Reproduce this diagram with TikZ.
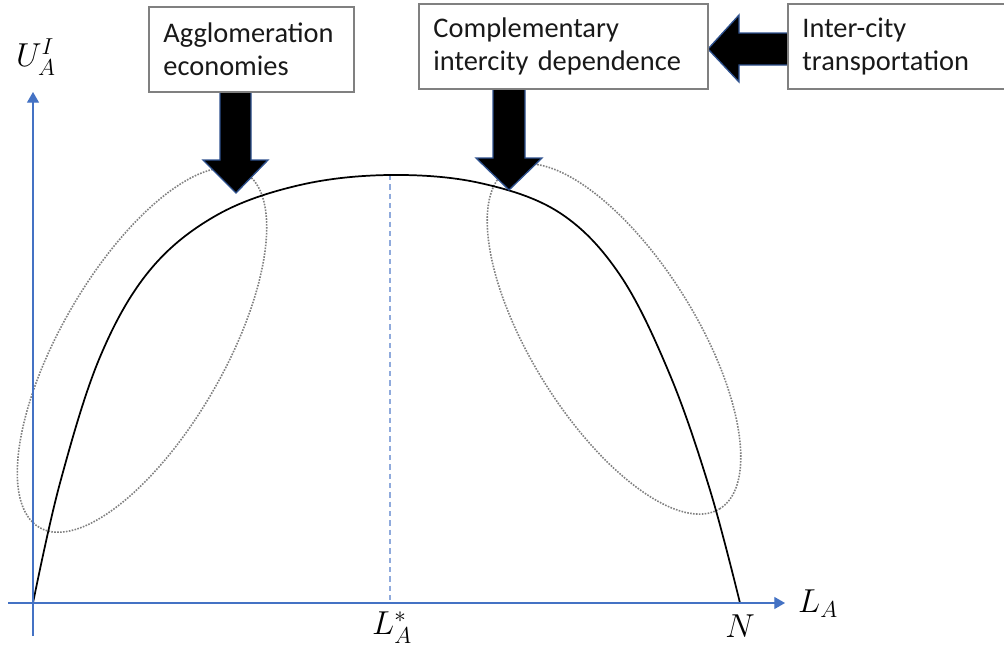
\documentclass[tikz,border=0pt]{standalone}
\usepackage{fontspec}
\setmainfont{Carlito}
\usepackage{amsmath}
\usetikzlibrary{arrows.meta}
\definecolor{axblue}{HTML}{4472C4}
\definecolor{dashblue}{HTML}{8FAADC}
\definecolor{rimblue}{HTML}{2F528F}

\begin{document}
\begin{tikzpicture}[x=0.75pt,y=-0.75pt,
  ax/.style={draw=axblue,line width=0.9pt,-{Triangle[length=8pt,width=9pt]}},
  curve/.style={draw=black,line width=1.3pt},
  guide/.style={draw=dashblue,line width=0.8pt,dash pattern=on 4pt off 3pt},
  zone/.style={draw=black!50,line width=1.2pt,densely dotted},
  fat/.style={fill=black,draw=rimblue,line width=1pt,line join=miter},
  box/.style={draw=black!50,line width=1.2pt,fill=white,text=black!90,font=\fontsize{21.3}{24.75}\selectfont,
    align=left,inner xsep=11pt,anchor=north west,minimum height=63.75pt},
  lab/.style={font=\fontsize{24}{28}\selectfont,inner sep=0pt}]
  \useasboundingbox (0,0) rectangle (1004,653);
  % ---------- dotted zones round the two flanks ----------
  \coordinate (cl) at (142,350);
  \coordinate (cr) at (614,339);
  \draw[zone,rotate around={60:(cl)}] (cl) ellipse (205 and 82);
  \draw[zone,rotate around={-58:(cr)}] (cr) ellipse (200 and 82);
  % ---------- utility curve and its peak ----------
  \coordinate (O) at (33,603);
  \coordinate (peak) at (390,175);
  \coordinate (foot) at (390,603);
  \draw[guide] (peak) -- (foot);
  \draw[curve] plot[smooth,tension=0.6] coordinates {(33,603) (60,483) (100,357) (150,270) (217,215)
    (300,185) (390,175) (480,183) (560,213) (620,275) (670,375) (710,490) (740,603)};
  % ---------- axes ----------
  \coordinate (xl) at (8,603);   \coordinate (xr) at (785,603);
  \coordinate (yb) at (33,636);  \coordinate (yt) at (33,92);
  \draw[ax] (xl) -- (xr);
  \draw[ax] (yb) -- (yt);
  \node[lab] (ua) at (36,57) {$U_A^I$};
  \node[lab] (la) at (818,604) {$L_A$};
  \node[lab] (lstar) at (392,628) {$L_A^*$};
  \node[lab] (nn) at (740,626) {$N$};
  % ---------- block arrows ----------
  \draw[fat] (220,85) -- (220,160) -- (203,160) -- (236,193) -- (268,160) -- (251,160) -- (251,85) -- cycle;
  \draw[fat] (493,85) -- (493,158) -- (476,158) -- (509,190) -- (542,158) -- (525,158) -- (525,85) -- cycle;
  \draw[fat] (795,33) -- (739,33) -- (739,15) -- (708,49) -- (739,82) -- (739,65) -- (795,65) -- cycle;
  % ---------- text boxes ----------
  \node[box,text width=131.75pt] (agglo) at (148,6) {Agglomeration\\economies};
  \node[box,text width=194.75pt] (compl) at (418,3) {Complementary\\intercity~dependence};
  \node[box,text width=145.25pt] (trans) at (787,3) {Inter-city\\transportation};
\end{tikzpicture}
\end{document}
